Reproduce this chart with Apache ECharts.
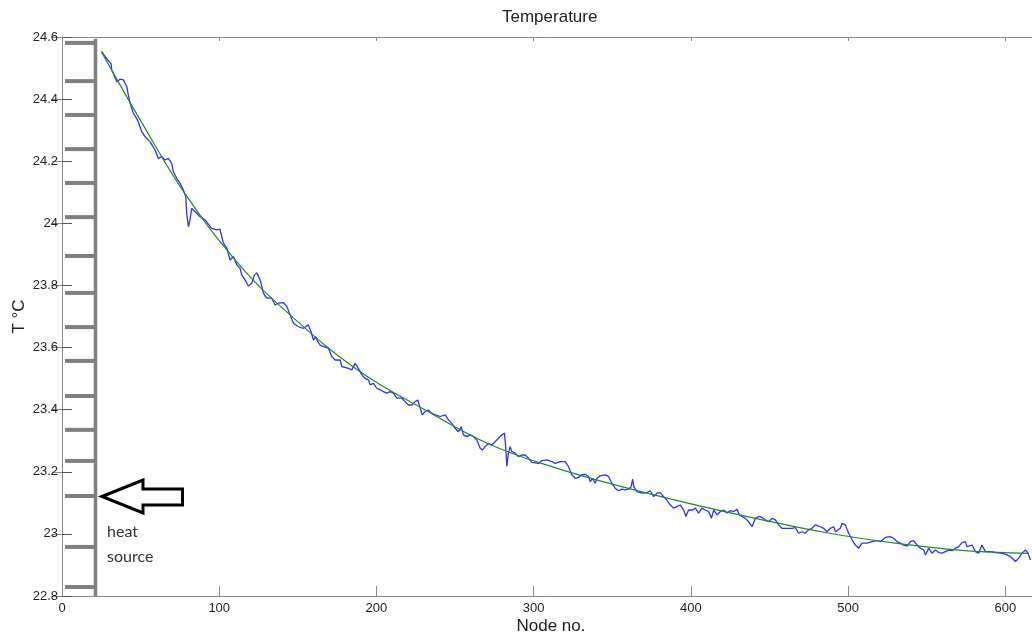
<!DOCTYPE html>
<html><head><meta charset="utf-8">
<script src="https://cdn.jsdelivr.net/npm/echarts@6/dist/echarts.min.js"></script>
<style>html,body{margin:0;padding:0;background:#fff}#c{width:1032px;height:642px}</style>
</head><body><div id="c"></div>
<script>
// ---- data (node number, temperature °C) ----
const measured = [
[25.2,24.553],[29.9,24.521],[31.2,24.515],[31.6,24.494],[32.6,24.483],[34.8,24.456],[36.9,24.464],[39.0,24.462],[41.2,24.440],[42.2,24.413],[43.3,24.387],[45.4,24.354],[47.5,24.338],[48.5,24.327],[50.7,24.295],[52.8,24.279],[56.0,24.263],[59.2,24.236],[61.3,24.209],[63.4,24.215],[65.5,24.204],[67.6,24.209],[69.8,24.193],[70.8,24.166],[73.0,24.145],[75.1,24.129],[77.2,24.107],[78.7,24.086],[79.3,24.032],[80.4,23.989],[81.4,24.011],[82.5,24.048],[84.6,24.038],[87.8,24.021],[91.0,24.011],[95.2,23.984],[98.4,23.979],[100.5,23.981],[102.6,23.936],[104.8,23.920],[106.9,23.882],[109.0,23.893],[111.2,23.866],[113.3,23.855],[114.3,23.834],[116.4,23.818],[118.5,23.798],[120.7,23.807],[122.4,23.834],[123.9,23.841],[126.0,23.818],[128.1,23.775],[130.3,23.759],[133.4,23.759],[135.5,23.737],[137.6,23.743],[140.8,23.745],[143.0,23.732],[145.1,23.705],[147.2,23.678],[150.4,23.667],[153.5,23.662],[156.7,23.673],[158.4,23.651],[159.9,23.624],[161.4,23.635],[162.7,23.619],[164.2,23.608],[166.3,23.603],[169.4,23.598],
[171.6,23.571],[173.7,23.560],[176.9,23.560],[178.0,23.539],[182.2,23.533],[184.3,23.528],[186.4,23.549],[187.5,23.551],[188.5,23.533],[190.7,23.512],[192.7,23.501],[194.9,23.496],[196.0,23.480],[198.1,23.485],[200.2,23.469],[202.3,23.464],[204.4,23.458],[206.6,23.453],[208.7,23.458],[210.8,23.453],[212.9,23.437],[216.1,23.437],[218.2,23.426],[220.3,23.415],[222.5,23.415],[224.6,23.426],[226.3,23.431],[227.8,23.405],[229.2,23.383],[230.9,23.394],[233.0,23.399],[235.2,23.388],[237.3,23.383],[240.5,23.378],[243.7,23.383],[245.8,23.367],[247.9,23.356],[250.0,23.340],[252.2,23.329],[253.9,23.345],[255.3,23.319],[257.5,23.313],[259.6,23.319],[261.7,23.313],[263.8,23.302],[266.0,23.276],[267.4,23.270],[269.1,23.281],[271.2,23.292],[273.4,23.286],[275.5,23.297],[277.6,23.308],[279.7,23.319],[281.4,23.324],[282.2,23.281],[282.9,23.217],[283.9,23.260],[285.0,23.281],[286.1,23.265],[288.2,23.260],[290.3,23.249],[292.5,23.254],[294.6,23.254],[296.7,23.244],[298.8,23.230],[303.0,23.227],[305.2,23.236],[308.3,23.238],[311.5,23.233],[313.6,23.227],
[316.9,23.233],[320.0,23.233],[322.1,23.217],[324.3,23.190],[326.4,23.179],[328.5,23.182],[330.6,23.190],[332.8,23.192],[334.9,23.185],[336.0,23.168],[337.4,23.179],[339.1,23.163],[340.2,23.179],[342.3,23.187],[345.5,23.190],[347.6,23.185],[349.7,23.163],[351.8,23.147],[354.0,23.139],[356.1,23.144],[358.2,23.142],[360.3,23.144],[362.0,23.152],[362.9,23.176],[363.7,23.152],[365.6,23.136],[368.8,23.131],[372.0,23.133],[374.1,23.139],[376.3,23.120],[378.4,23.131],[380.5,23.133],[382.6,23.120],[384.7,23.109],[386.9,23.093],[389.0,23.083],[391.1,23.088],[393.2,23.093],[395.4,23.077],[396.8,23.056],[398.5,23.077],[401.1,23.077],[402.8,23.083],[404.9,23.067],[407.0,23.083],[409.1,23.077],[411.3,23.072],[413.0,23.050],[414.5,23.077],[416.6,23.061],[418.7,23.072],[420.8,23.077],[423.0,23.067],[425.1,23.075],[427.2,23.072],[429.3,23.079],[430.8,23.061],[432.5,23.056],[434.6,23.050],[436.7,23.039],[438.9,23.023],[441.0,23.050],[443.1,23.056],[445.2,23.053],[447.3,23.045],[449.5,23.039],[451.6,23.050],[453.7,23.045],[455.8,23.029],[457.9,23.018],[461.1,23.018],[464.3,23.018],[466.4,23.020],
[468.5,23.002],[470.6,23.007],[472.7,23.002],[474.8,23.013],[477.0,23.018],[479.1,23.029],[480.2,23.034],[482.3,23.023],[484.4,23.018],[486.5,23.007],[488.6,23.018],[490.8,23.023],[491.9,23.007],[492.9,23.002],[495.0,23.018],[496.1,23.034],[498.2,23.029],[500.3,23.002],[502.5,22.981],[504.6,22.964],[506.7,22.954],[508.8,22.970],[512.0,22.970],[515.2,22.975],[518.4,22.978],[520.5,22.975],[523.7,22.989],[526.8,22.991],[529.0,22.986],[531.1,22.975],[533.2,22.970],[535.3,22.964],[537.4,22.961],[539.6,22.975],[541.7,22.978],[543.8,22.964],[545.9,22.954],[548.1,22.948],[549.1,22.932],[551.2,22.954],[553.3,22.938],[555.5,22.948],[557.6,22.940],[559.7,22.938],[561.8,22.943],[563.9,22.948],[566.1,22.946],[568.2,22.954],[570.3,22.959],[572.4,22.972],[574.5,22.975],[575.6,22.959],[576.7,22.954],[578.8,22.964],[580.9,22.943],[583.0,22.938],[585.1,22.964],[586.2,22.970],[587.3,22.943],[589.4,22.943],[591.5,22.943],[593.6,22.940],[596.8,22.938],[600.0,22.935],[603.2,22.927],[606.4,22.911],[608.5,22.922],[610.6,22.938],[612.7,22.948],[614.4,22.938],[615.9,22.916]
];
const fitted = [
[25,24.553],[51,24.322],[78,24.097],[112,23.871],[144,23.710],[188,23.528],[231,23.399],[273,23.286],[315,23.211],[356,23.152],[398,23.099],[441,23.050],[488,23.002],[530,22.970],[572,22.947],[615,22.937]
];
// levels (°C) of the horizontal rungs of the sensor-rack drawing on the left
const combLevels = [24.581,24.458,24.349,24.239,24.130,24.020,23.895,23.776,23.666,23.557,23.444,23.335,23.235,23.122,22.958,22.829];
const xTickStep = 100;
const yTickStep = 0.2;
const xRange = [0, 622];
const yRange = [22.8, 24.6];

// ---- style constants ----
const COMB_LEFT = 1.9, COMB_SPINE = 21.3, COMB_TOP = 24.594;
const AX = '#8a8a8a', TXT = '#1e1e1e', FONT = '"Liberation Sans", Arial, sans-serif';

const chart = echarts.init(document.getElementById('c'));
const baseX = {type:'value', min:xRange[0], max:xRange[1], interval:xTickStep, splitLine:{show:false},
  axisLine:{lineStyle:{color:AX,width:1}}};
const baseY = {type:'value', min:yRange[0], max:yRange[1], interval:yTickStep, splitLine:{show:false},
  axisLine:{lineStyle:{color:AX,width:1}}};
chart.setOption({
  animation:false,
  backgroundColor:'#fff',
  title:{text:'Temperature', left:497, top:4, textStyle:{fontSize:17, fontWeight:'normal', color:TXT, fontFamily:FONT}},
  grid:{left:62, right:-8, top:37, bottom:46, containLabel:false, outerBoundsMode:'none'},
  xAxis:[
    Object.assign({}, baseX, {position:'bottom',
      axisTick:{inside:true, length:10, lineStyle:{color:AX}},
      axisLabel:{margin:6, fontSize:13, color:TXT, fontFamily:FONT,
        formatter:v => (Math.abs(v % xTickStep) < 1e-9 ? String(v) : '')},
      name:'Node no.', nameLocation:'middle', nameGap:22, nameMoveOverlap:false,
      nameTextStyle:{fontSize:17, color:TXT, fontFamily:FONT}}),
    Object.assign({}, baseX, {position:'top', axisTick:{inside:true, length:4, lineStyle:{color:AX}}, axisLabel:{show:false}})
  ],
  yAxis:[
    Object.assign({}, baseY, {position:'left',
      axisTick:{inside:true, length:10, lineStyle:{color:'#555'}},
      axisLabel:{margin:4, fontSize:13, color:TXT, fontFamily:FONT,
        formatter:v => String(parseFloat(Number(v).toFixed(1)))},
      name:'T \u00B0C', nameLocation:'middle', nameRotate:90, nameGap:34, nameMoveOverlap:false,
      nameTextStyle:{fontSize:17, color:TXT, fontFamily:FONT}}),
    Object.assign({}, baseY, {position:'right', axisTick:{inside:true, length:10, lineStyle:{color:AX}}, axisLabel:{show:false}})
  ],
  series:[
    {type:'custom', name:'rungs', xAxisIndex:0, yAxisIndex:0, silent:true, z:3,
      data:combLevels.map(v => [COMB_SPINE, v]),
      renderItem:(params, api) => {
        const y = api.value(1);
        const a = api.coord([COMB_LEFT, y]), b = api.coord([COMB_SPINE, y]);
        return {type:'line', shape:{x1:a[0], y1:a[1], x2:b[0], y2:b[1]}, style:{stroke:'#7f7f7f', lineWidth:4}};
      }},
    {type:'custom', name:'spine', xAxisIndex:0, yAxisIndex:0, silent:true, z:3,
      data:[[COMB_SPINE, COMB_TOP]],
      renderItem:(params, api) => {
        const a = api.coord([api.value(0), api.value(1)]), b = api.coord([api.value(0), yRange[0]]);
        return {type:'line', shape:{x1:a[0], y1:a[1], x2:b[0], y2:b[1]}, style:{stroke:'#7f7f7f', lineWidth:3.5}};
      }},
    {type:'line', name:'measured', data:measured, showSymbol:false, symbol:'none', z:4,
      lineStyle:{color:'#3030ff', width:1.3}},
    {type:'line', name:'fit', data:fitted, showSymbol:false, symbol:'none', smooth:0.4, z:5,
      lineStyle:{color:'#1f8c1f', width:1.2}}
  ],
  graphic:[
    {type:'polygon', z:10, shape:{points:[[102,496.5],[143,480],[143,489],[182.5,489],[182.5,505],[143,505],[143,513]]},
      style:{fill:'#fff', stroke:'#000', lineWidth:3, lineJoin:'miter'}},
    {type:'text', z:10, x:107, y:532, style:{text:'heat', font:'16px Lato, "Open Sans", sans-serif', fill:'#333', textVerticalAlign:'middle'}},
    {type:'text', z:10, x:107, y:556.5, style:{text:'source', font:'16px Lato, "Open Sans", sans-serif', fill:'#333', textVerticalAlign:'middle'}}
  ]
});
</script></body></html>
